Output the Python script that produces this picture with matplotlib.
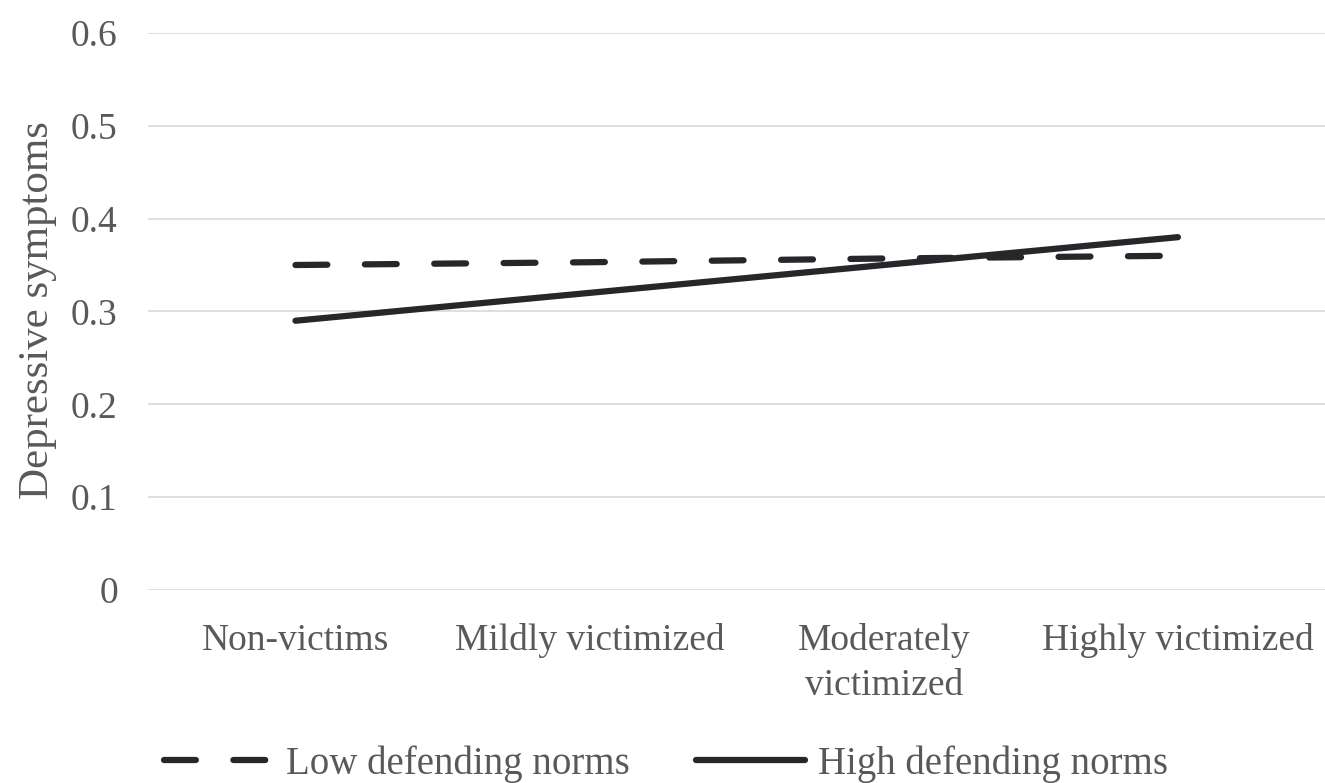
import numpy as np
import matplotlib
matplotlib.use('Agg')
import matplotlib.pyplot as plt

# ── data ─────────────────────────────────────────
categories = ["Non-victims", "Mildly victimized", "Moderately\nvictimized", "Highly victimized"]
low_norms  = [0.350, 0.353, 0.357, 0.360]
high_norms = [0.290, 0.320, 0.350, 0.380]
yticks     = [0, 0.1, 0.2, 0.3, 0.4, 0.5, 0.6]
ytick_lbls = ["0", "0.1", "0.2", "0.3", "0.4", "0.5", "0.6"]

plt.rcParams['font.family'] = ['Liberation Serif', 'DejaVu Serif']
txt_col = "#595959"
line_col = "#26272b"

fig = plt.figure(figsize=(13.25, 7.83), dpi=100)
ax = fig.add_axes([0.112, 0.2465, 0.888, 0.7115])

x = np.arange(len(categories))
ax.plot(x, low_norms, color=line_col, lw=4.5, ls=(0, (5.1, 6.0)),
        dash_capstyle="round", label="Low defending norms")
ax.plot(x, high_norms, color=line_col, lw=4.5, solid_capstyle="round",
        label="High defending norms")

ax.set_xlim(-0.5, 3.5)
ax.set_ylim(0, 0.6)
ax.set_yticks(yticks)
ax.set_yticklabels(ytick_lbls)
ax.set_xticks(x)
ax.set_xticklabels(categories, linespacing=1.38)
ax.grid(axis="y", color="#d9d9d9", lw=1.2)
ax.set_axisbelow(True)
for s in ax.spines.values():
    s.set_visible(False)
ax.tick_params(length=0, labelsize=27, colors=txt_col)
ax.tick_params(axis="x", pad=24)
ax.tick_params(axis="y", pad=22)
ax.set_ylabel("Depressive symptoms", fontsize=31, color=txt_col)
ax.yaxis.set_label_coords(-0.078, 0.503)

fig.legend(loc="center", bbox_to_anchor=(0.5026, 0.024), ncol=2, frameon=False,
           fontsize=28, labelcolor=txt_col, handlelength=2.8, handletextpad=0.35,
           columnspacing=1.7)

plt.savefig("out.png", dpi=100)
plt.close()
